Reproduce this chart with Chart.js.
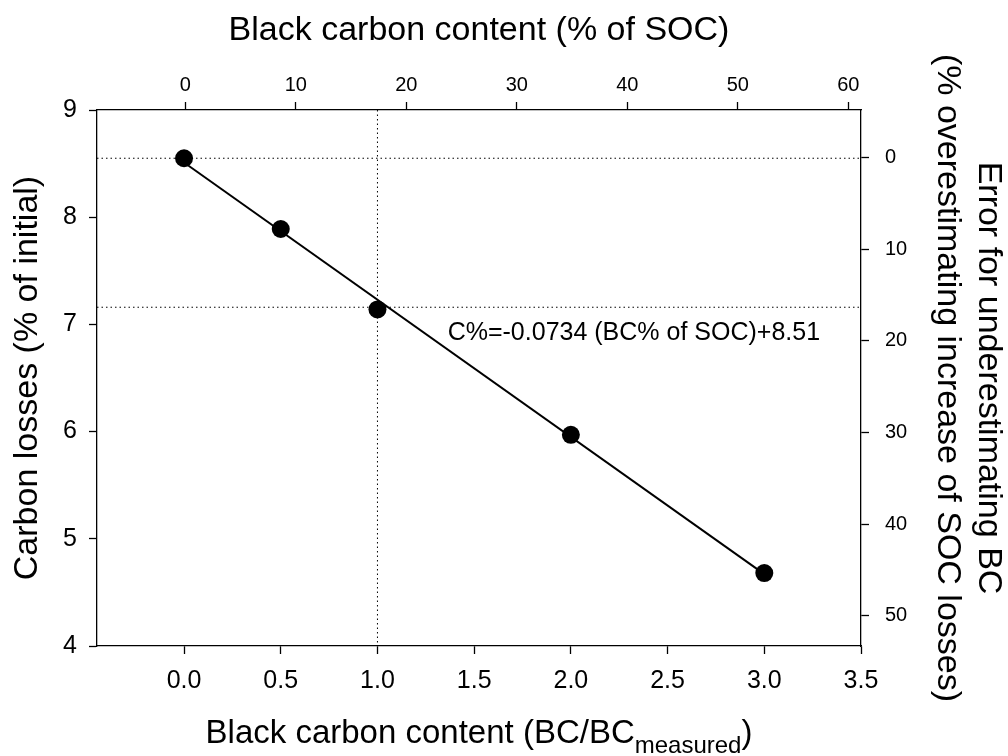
<!DOCTYPE html>
<html>
<head>
<meta charset="utf-8">
<script src="https://cdn.jsdelivr.net/npm/chart.js@4/dist/chart.umd.min.js"></script>
<style>
  body { margin: 0; background: #fff; }
  #wrap { width: 1008px; height: 756px; }
</style>
</head>
<body>
<div id="wrap"><canvas id="grafico"></canvas></div>
<script>
// datos
const bcRatio = [0, 0.5, 1.0, 2.0, 3.0];
const carbonLoss = [8.55, 7.89, 7.14, 5.97, 4.68];
const fitBC = [0, 3.0];
const fitLoss = [8.51, 4.67];
const refLoss = [8.55, 7.16];
const refBC = [1.0];

const bottomTicks = [0, 0.5, 1.0, 1.5, 2.0, 2.5, 3.0, 3.5];
const leftTicks = [4, 5, 6, 7, 8, 9];
const topTicks = [0, 10, 20, 30, 40, 50, 60];
const rightTicks = [0, 10, 20, 30, 40, 50];

const xRange = [-0.45, 3.5];
const yRange = [4, 9];
const topRange = [-8.0, 61.15];
const rightRange = [-5.2, 53.3];

const equation = "C%=-0.0734 (BC% of SOC)+8.51";
const FONT = "'Liberation Sans', Arial, sans-serif";

Chart.defaults.color = "#000";
Chart.defaults.font.family = FONT;

function fijarTicks(lista) {
  return function (s) { s.ticks = lista.map(v => ({ value: v })); };
}

function ejeBase(extra) {
  return Object.assign({
    type: "linear",
    grid: { drawOnChartArea: false, drawTicks: true, tickLength: 8, tickColor: "#000", tickWidth: 1.3 },
    border: { display: true, color: "#000", width: 1.3 }
  }, extra);
}

// lineas punteadas, ecuacion y titulo inferior con subindice
const extras = {
  id: "extras",
  beforeDatasetsDraw(chart) {
    const { ctx, chartArea: a, scales } = chart;
    ctx.save();
    ctx.strokeStyle = "#000";
    ctx.lineWidth = 1;
    ctx.setLineDash([1.5, 3]);
    refLoss.forEach(v => {
      const y = scales.y.getPixelForValue(v);
      ctx.beginPath(); ctx.moveTo(a.left, y); ctx.lineTo(a.right, y); ctx.stroke();
    });
    refBC.forEach(v => {
      const x = scales.x.getPixelForValue(v);
      ctx.beginPath(); ctx.moveTo(x, a.top); ctx.lineTo(x, a.bottom); ctx.stroke();
    });
    ctx.restore();
  },
  afterDraw(chart) {
    const { ctx, chartArea: a, scales } = chart;
    ctx.save();
    ctx.fillStyle = "#000";
    ctx.textBaseline = "alphabetic";
    ctx.textAlign = "left";
    ctx.font = "25px " + FONT;
    ctx.fillText(equation, scales.x.getPixelForValue(1.363), scales.y.getPixelForValue(6.857));

    const main = "Black carbon content (BC/BC";
    const sub = "measured";
    const fin = ")";
    ctx.font = "33px " + FONT;
    const wMain = ctx.measureText(main).width;
    const wFin = ctx.measureText(fin).width;
    ctx.font = "24px " + FONT;
    const wSub = ctx.measureText(sub).width;
    let x = (a.left + a.right) / 2 - (wMain + wSub + wFin) / 2;
    const base = a.bottom + 97;
    ctx.font = "33px " + FONT;
    ctx.fillText(main, x, base);
    x += wMain;
    ctx.font = "24px " + FONT;
    ctx.fillText(sub, x, base + 10);
    x += wSub;
    ctx.font = "33px " + FONT;
    ctx.fillText(fin, x, base);
    ctx.restore();
  }
};

const config = {
  type: "scatter",
  data: {
    datasets: [
      {
        data: fitBC.map((v, i) => ({ x: v, y: fitLoss[i] })),
        showLine: true,
        borderColor: "#000",
        borderWidth: 2,
        pointRadius: 0,
        xAxisID: "x", yAxisID: "y"
      },
      {
        data: bcRatio.map((v, i) => ({ x: v, y: carbonLoss[i] })),
        showLine: false,
        backgroundColor: "#000",
        borderWidth: 0,
        pointRadius: 9,
        xAxisID: "x", yAxisID: "y"
      }
    ]
  },
  options: {
    responsive: true,
    maintainAspectRatio: false,
    animation: false,
    layout: { padding: 0 },
    plugins: { legend: { display: false }, tooltip: { enabled: false } },
    scales: {
      x: ejeBase({
        position: "bottom", min: xRange[0], max: xRange[1],
        afterBuildTicks: fijarTicks(bottomTicks),
        afterFit: s => { s.height = 110; },
        ticks: { font: { size: 25 }, padding: 12, autoSkip: false, maxRotation: 0, callback: v => v.toFixed(1) }
      }),
      x2: ejeBase({
        position: "top", min: topRange[0], max: topRange[1],
        afterBuildTicks: fijarTicks(topTicks),
        afterFit: s => { s.height = 110; },
        ticks: { font: { size: 20 }, padding: 5, autoSkip: false, maxRotation: 0 },
        title: { display: true, text: "Black carbon content (% of SOC)", font: { size: 34 }, padding: { top: 10, bottom: 0 } }
      }),
      y: ejeBase({
        position: "left", min: yRange[0], max: yRange[1],
        afterBuildTicks: fijarTicks(leftTicks),
        afterFit: s => { s.width = 97; },
        ticks: { font: { size: 25 }, padding: 12 },
        title: { display: true, text: "Carbon losses (% of initial)", font: { size: 34 }, padding: { top: 7, bottom: 0 } }
      }),
      y2: ejeBase({
        position: "right", reverse: true, min: rightRange[0], max: rightRange[1],
        afterBuildTicks: fijarTicks(rightTicks),
        afterFit: s => { s.width = 147; },
        ticks: { font: { size: 20 }, padding: 16 },
        title: {
          display: true,
          text: ["Error for underestimating BC", "(% overestimating increase of SOC losses)"],
          font: { size: 34, lineHeight: 1.2 }, padding: { top: -1, bottom: 0 }
        }
      })
    }
  },
  plugins: [extras]
};

const chart = new Chart(document.getElementById("grafico").getContext("2d"), config);
</script>
</body>
</html>
